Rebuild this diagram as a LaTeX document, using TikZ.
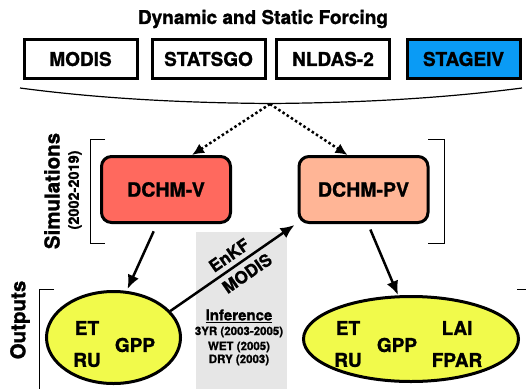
\documentclass[tikz,border=0pt]{standalone}
\usepackage{fontspec}
\setmainfont{TeX Gyre Heros}[BoldFeatures={FakeBold=1.2}]
\usepackage{tikz}
\usetikzlibrary{arrows.meta,calc,positioning,shapes.geometric}
\definecolor{ForceBlue}{HTML}{0A9BF5}
\definecolor{VegRed}{HTML}{FF695E}
\definecolor{VegPeach}{HTML}{FFB596}
\definecolor{OutYellow}{HTML}{F1FA4B}
\definecolor{InfGrey}{HTML}{E6E6E6}
\newcommand{\fsz}[1]{\fontsize{#1}{#1}\selectfont\bfseries}

\begin{document}
\begin{tikzpicture}[x=1pt, y=-1pt,
  srcbox/.style={draw, line width=3pt, minimum width=113pt, minimum height=39pt, inner sep=0pt, font=\fsz{19}},
  modelbox/.style={draw, line width=3pt, rounded corners=10pt, minimum width=129pt, minimum height=66pt, inner sep=0pt, font=\fsz{19.5}},
  outell/.style={ellipse, draw, line width=3pt, fill=OutYellow, inner sep=0pt},
  outtxt/.style={font=\fsz{19}, inner sep=0pt},
  sidelab/.style={rotate=90, font=\fsz{20.5}, inner sep=0pt},
  bracket/.style={line width=1pt},
  dotarrow/.style={-{Latex[length=12pt,width=11pt]}, line width=2.5pt, dash pattern=on 2.5pt off 2.5pt},
  solidarrow/.style={-{Latex[length=14pt,width=12pt]}, line width=2.5pt},
  arrowlab/.style={sloped, font=\fsz{17}, inner sep=0pt},
  inftxt/.style={font=\fsz{11.5}, inner sep=0pt}]
\useasboundingbox (0,0) rectangle (526,388);

% forcing data
\node[font=\fsz{19}] (title) at (263,19) {Dynamic and Static Forcing};
\node[srcbox] (modis) at (80.5,59) {MODIS};
\node[srcbox] (statsgo) at (208.5,59) {STATSGO};
\node[srcbox] (nldas) at (333,59) {NLDAS-2};
\node[srcbox, fill=ForceBlue] (stage) at (463.5,59) {STAGEIV};
\draw[line width=1.2pt] (20,88) .. controls (110,100) and (200,103) .. (270,103.5)
  .. controls (340,103) and (430,100) .. (522,88);
\coordinate (fork) at (270,104);

% brackets and side labels
\draw[bracket] (105,139) -| (90,243) -- (105,243);
\draw[bracket] (428,139) -| (444,243) -- (428,243);
\draw[bracket] (54,289) -| (39,392);
\draw[bracket] (517,289) -- (530,289);
\node[sidelab] (simlab) at (52,191) {Simulations};
\node[sidelab, font=\fsz{14.5}] (simyrs) at (75,190) {(2002-2019)};
\node[sidelab] (outlab) at (20,320) {Outputs};

% inference panel
\fill[InfGrey] (196,232) rectangle (287,392);
\node[font=\fsz{15}, inner sep=0pt] (inf) at (239,316) {\underline{Inference}};
\node[inftxt] (yr3) at (239,332) {3YR (2003-2005)};
\node[inftxt] (wet) at (239,347) {WET (2005)};
\node[inftxt] (dry) at (239,360) {DRY (2003)};

% models
\node[modelbox, fill=VegRed] (dchmv) at (166,189.5) {DCHM-V};
\node[modelbox, fill=VegPeach] (dchmpv) at (363.5,189.5) {DCHM-PV};

% outputs
\node[outell, minimum width=134pt, minimum height=92pt] (ellA) at (113.5,337.5) {};
\node[outell, minimum width=215pt, minimum height=85pt] (ellB) at (411,339) {};
\node[outtxt] (etA) at (87,328) {ET};
\node[outtxt] (ruA) at (87,360) {RU};
\node[outtxt] (gppA) at (135,345) {GPP};
\node[outtxt] (etB) at (348,328) {ET};
\node[outtxt] (ruB) at (348,360) {RU};
\node[outtxt] (gppB) at (397,345) {GPP};
\node[outtxt] (laiB) at (457,328) {LAI};
\node[outtxt] (fparB) at (457,360) {FPAR};

% connectors
\draw[dotarrow] (fork) -- ([xshift=26pt]dchmv.north);
\draw[dotarrow] (fork) -- ([xshift=-16pt]dchmpv.north);
\draw[solidarrow, shorten <=8pt] ([xshift=-9pt]dchmv.south) -- ([xshift=14pt,yshift=1pt]ellA.north);
\draw[solidarrow, shorten <=6pt] ([xshift=4.5pt]dchmpv.south) -- ([xshift=-13pt]ellB.north);
\draw[solidarrow] (ellA.25) -- ([shift={(-3pt,-1pt)}]dchmpv.south west)
  node[pos=0.53, above=5pt, arrowlab] (enkf) {EnKF}
  node[pos=0.56, below=5pt, arrowlab] (enkfsrc) {MODIS};
\end{tikzpicture}
\end{document}
